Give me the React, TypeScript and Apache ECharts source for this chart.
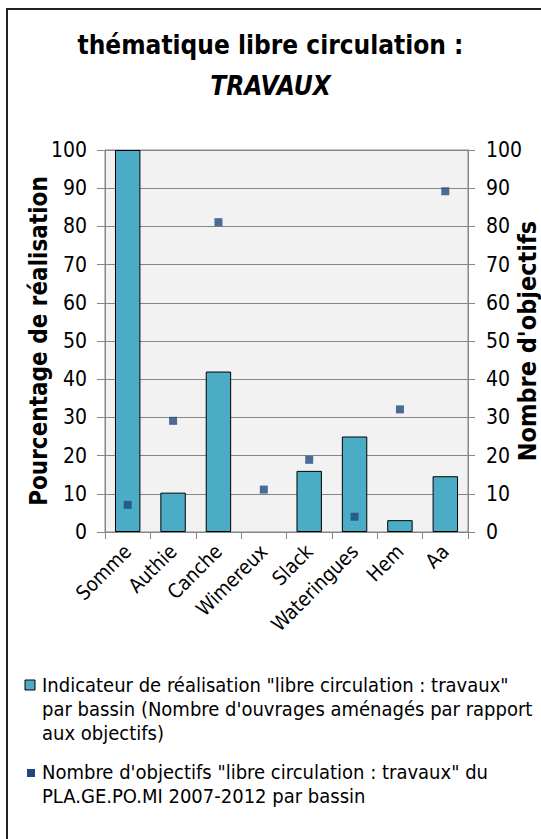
import React, { useEffect, useRef } from "react";
import * as echarts from "echarts";

const categories = ["Somme", "Authie", "Canche", "Wimereux", "Slack", "Wateringues", "Hem", "Aa"];
const realisation = [100, 10.3, 42, 0, 16, 25, 3.1, 14.6];
const objectifs = [7.1, 29.1, 81.1, 11.1, 18.9, 4, 32.1, 89.2];
const yTicks = { min: 0, max: 100, interval: 10 };

const barName = 'Indicateur de réalisation "libre circulation : travaux" par bassin (Nombre d\'ouvrages aménagés par rapport aux objectifs)';
const dotName = 'Nombre d\'objectifs "libre circulation : travaux" du PLA.GE.PO.MI 2007-2012 par bassin';
const barLegendLines = ['Indicateur de réalisation "libre circulation : travaux"', "par bassin (Nombre d'ouvrages aménagés par rapport", "aux objectifs)"];
const dotLegendLines = ['Nombre d\'objectifs "libre circulation : travaux" du', "PLA.GE.PO.MI 2007-2012 par bassin"];

const FONT = "'DejaVu Sans Condensed', 'Open Sans', sans-serif";
const BAR = "#4bacc6";
const DOT = "#1f497d";
const GRID = "#868686";

export default function App() {
  const ref = useRef<HTMLDivElement>(null);
  useEffect(() => {
    document.body.style.margin = "0";
    const chart = echarts.init(ref.current!, null, { renderer: "svg" });
    chart.setOption({
      animation: false,
      backgroundColor: "#ffffff",
      textStyle: { fontFamily: FONT },
      title: {
        text: "thématique libre circulation :\n{i|TRAVAUX}",
        left: "center",
        top: 19,
        textStyle: {
          fontFamily: FONT,
          fontSize: 26,
          fontWeight: "bold",
          color: "#000",
          lineHeight: 41,
          rich: { i: { fontFamily: FONT, fontSize: 26, fontWeight: "bold", fontStyle: "italic", color: "#000", lineHeight: 41 } },
        },
      },
      grid: {
        left: 105,
        right: 73,
        top: 150,
        bottom: 307,
        outerBoundsMode: "none",
        containLabel: false,
        show: true,
        backgroundColor: "#f2f2f2",
        borderColor: GRID,
        borderWidth: 1,
      },
      xAxis: {
        type: "category",
        data: categories,
        boundaryGap: true,
        axisLine: { lineStyle: { color: GRID, width: 1 } },
        axisTick: { show: true, length: 7, lineStyle: { color: GRID } },
        axisLabel: { rotate: 45, fontSize: 20, color: "#000", margin: 16, fontFamily: FONT },
      },
      yAxis: [
        {
          type: "value",
          ...yTicks,
          name: "Pourcentage de réalisation",
          nameLocation: "middle",
          nameRotate: 90,
          nameGap: 66,
          nameMoveOverlap: false,
          nameTextStyle: { fontSize: 24, fontWeight: "bold", color: "#000", fontFamily: FONT, verticalAlign: "middle" },
          axisLine: { show: true, lineStyle: { color: GRID } },
          axisTick: { show: true, length: 8, lineStyle: { color: GRID } },
          axisLabel: { fontSize: 21, color: "#000", margin: 18, fontFamily: FONT },
          splitLine: { show: true, lineStyle: { color: GRID, width: 1 } },
        },
        {
          type: "value",
          ...yTicks,
          name: "Nombre d'objectifs",
          nameLocation: "middle",
          nameRotate: 90,
          nameGap: 59,
          nameMoveOverlap: false,
          nameTextStyle: { fontSize: 25, fontWeight: "bold", color: "#000", fontFamily: FONT, verticalAlign: "middle" },
          axisLine: { show: true, lineStyle: { color: GRID } },
          axisTick: { show: true, length: 7, lineStyle: { color: GRID } },
          axisLabel: { fontSize: 21, color: "#000", margin: 18, fontFamily: FONT },
          splitLine: { show: false },
        },
      ],
      series: [
        {
          name: barName,
          type: "bar",
          yAxisIndex: 0,
          data: realisation.map((v) => (v === 0 ? { value: v, itemStyle: { borderWidth: 0 } } : v)),
          barWidth: "56%",
          itemStyle: { color: BAR, borderColor: "#000", borderWidth: 1 },
        },
        {
          name: dotName,
          type: "scatter",
          yAxisIndex: 1,
          data: objectifs,
          symbol: "rect",
          symbolSize: 8,
          itemStyle: { color: DOT },
          z: 5,
        },
      ],
      graphic: [
        { type: "rect", shape: { x: 7, y: 9, width: 600, height: 900 }, style: { fill: "none", stroke: "#222", lineWidth: 2 }, silent: true, z: 100 },
        { type: "rect", shape: { x: 25, y: 680, width: 10, height: 10 }, style: { fill: BAR, stroke: "#000", lineWidth: 1 } },
        {
          type: "text",
          x: 42,
          y: 673,
          style: { text: barLegendLines.join("\n"), fontSize: 20, lineHeight: 24, fontFamily: FONT, fill: "#000" },
        },
        { type: "rect", shape: { x: 27, y: 769, width: 8, height: 8 }, style: { fill: DOT } },
        {
          type: "text",
          x: 42,
          y: 760,
          style: { text: dotLegendLines.join("\n"), fontSize: 20, lineHeight: 24, fontFamily: FONT, fill: "#000" },
        },
      ],
    });
    return () => chart.dispose();
  }, []);
  return <div ref={ref} style={{ width: 541, height: 839 }} />;
}
